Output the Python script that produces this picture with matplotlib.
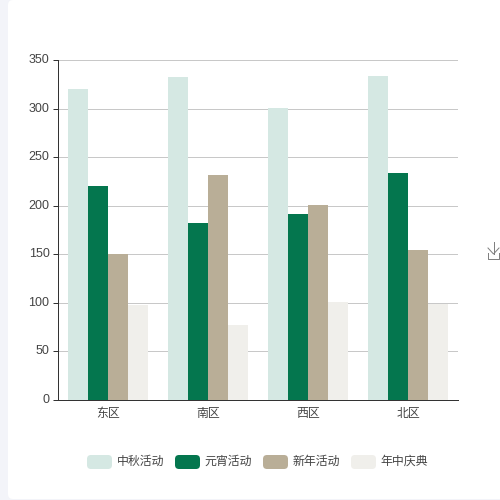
import matplotlib
matplotlib.use("Agg")
import matplotlib.pyplot as plt
from matplotlib.patches import FancyBboxPatch
from matplotlib.transforms import ScaledTranslation

plt.rcParams['font.family'] = ['Noto Sans CJK SC', 'DejaVu Sans']

# datos
regions = ["东区", "南区", "西区", "北区"]
activities = ["中秋活动", "元宵活动", "新年活动", "年中庆典"]
mid_autumn = [320, 332, 301, 334]
lantern = [220, 182, 191, 234]
new_year = [150, 232, 201, 154]
mid_year = [98, 77, 101, 99]
y_ticks = [0, 50, 100, 150, 200, 250, 300, 350]

series = [mid_autumn, lantern, new_year, mid_year]
colors = ["#d5e8e3", "#04764e", "#b9ae97", "#f0efeb"]
px = 0.72  # 1 pixel en puntos a dpi 100

fig = plt.figure(figsize=(5, 5), dpi=100, facecolor="#f3f4f9")

# capa de fondo en pixeles: tarjeta blanca, leyenda e icono
bg = fig.add_axes([0, 0, 1, 1], zorder=0)
bg.set_xlim(0, 500)
bg.set_ylim(500, 0)
bg.axis("off")
bg.add_patch(FancyBboxPatch((8, 0), 540, 499, boxstyle="round,pad=0,rounding_size=5",
                            fc="white", ec="none"))

# grafico de barras
ax = fig.add_axes([58 / 500, 100 / 500, 400 / 500, 340 / 500], zorder=1)
ax.patch.set_alpha(0)
width = 0.2
for i, values in enumerate(series):
    xs = [k + 0.5 + (i - 1.5) * width for k in range(len(regions))]
    ax.bar(xs, values, width=width, color=colors[i], zorder=3)

ax.set_xlim(0, 4)
ax.set_ylim(0, 350)
ax.set_yticks(y_ticks)
ax.set_xticks([k + 0.5 for k in range(len(regions))])
ax.set_xticklabels(regions)
ax.grid(axis="y", color="#c8c8c8", linewidth=px, zorder=1)
ax.tick_params(axis="y", length=5 * px, width=px, color="#333333", labelcolor="#444444",
               labelsize=9, pad=2.5)
ax.tick_params(axis="x", length=0, labelcolor="#444444", labelsize=8.6, pad=5)
shift = ScaledTranslation(0, 1.5 / 100, fig.dpi_scale_trans)
for label in ax.get_yticklabels():
    label.set_family("Liberation Sans")
    label.set_transform(label.get_transform() + shift)
for side in ["top", "right"]:
    ax.spines[side].set_visible(False)
for side in ["left", "bottom"]:
    ax.spines[side].set_color("#333333")
    ax.spines[side].set_linewidth(px)

# leyenda
swatch_x = [87, 175, 263, 351]
for x, name, c in zip(swatch_x, activities, colors):
    bg.add_patch(FancyBboxPatch((x, 455), 25, 14, boxstyle="round,pad=0,rounding_size=4",
                                fc=c, ec="none"))
    bg.text(x + 29.5, 461.5, name, fontsize=8.6, color="#444444", va="center", ha="left")

# icono de descarga
icon = "#808080"
bg.plot([487.5, 487.5, 498.9, 498.9], [253, 258.5, 258.5, 253], color=icon, lw=px, clip_on=False)
bg.plot([493.5, 493.5], [242, 254], color=icon, lw=px, clip_on=False)
bg.plot([488, 493.5, 499], [248, 254, 248], color=icon, lw=px, clip_on=False)

fig.savefig("out.png", dpi=100, facecolor=fig.get_facecolor())
